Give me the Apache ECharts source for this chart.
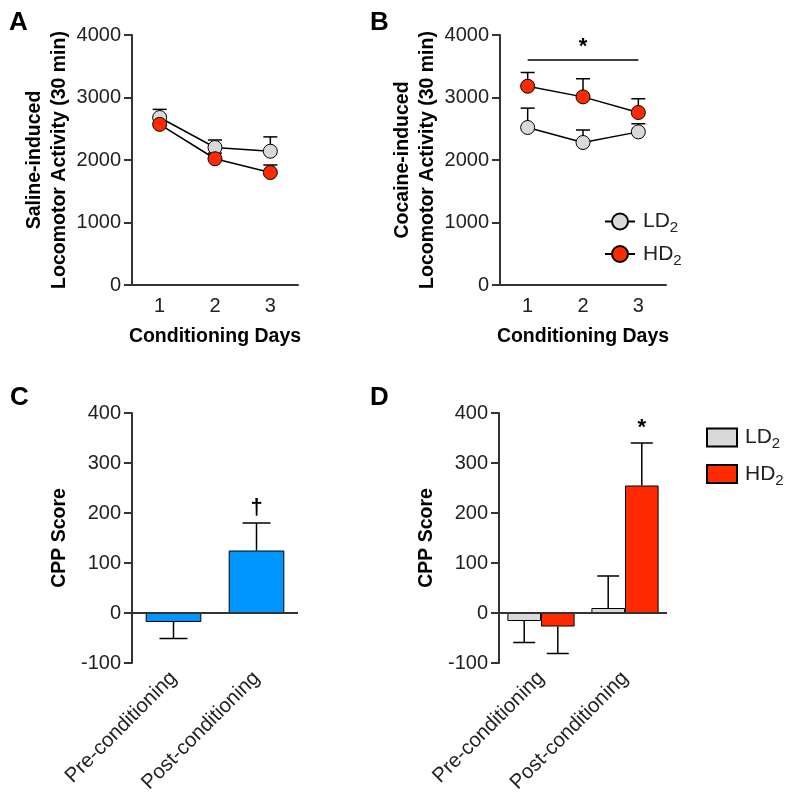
<!DOCTYPE html>
<html>
<head>
<meta charset="utf-8">
<script src="https://cdn.jsdelivr.net/npm/echarts@6/dist/echarts.min.js"></script>
<style>
html, body { margin: 0; padding: 0; background: #fff; }
#main { width: 790px; height: 799px; }
</style>
</head>
<body>
<div id="main"></div>
<script>
// panel A / B : locomotor activity per conditioning day
var days = ['1', '2', '3'];
var salineLD = [2680, 2200, 2140];
var salineLDErr = [2810, 2320, 2370];
var salineHD = [2570, 2020, 1800];
var salineHDErr = [2670, 2110, 1920];
var cocaineLD = [2520, 2280, 2450];
var cocaineLDErr = [2830, 2480, 2580];
var cocaineHD = [3180, 3010, 2760];
var cocaineHDErr = [3400, 3300, 2980];
var cocaineSig = [[0, 3610], [2, 3610]];

// panel C / D : CPP score
var phases = ['Pre-conditioning', 'Post-conditioning'];
var cppAll = [-18, 125];
var cppAllErr = [-51, 180];
var cppLD = [-16, 10];
var cppLDErr = [-59, 74];
var cppHD = [-27, 255];
var cppHDErr = [-81, 340];
var cppAllMark = [1, 210];
var cppHDMark = [1, 370];

var RED = '#ff2a00';
var GREY = '#d9d9d9';
var BLUE = '#0096ff';
var AXIS = '#333333';
var FONT = 'Liberation Sans, Arial, sans-serif';

var chart = echarts.init(document.getElementById('main'), null, {renderer: 'canvas'});

function errData(vals, ends) {
    return vals.map(function (v, i) { return [i, v, ends[i]]; });
}

function errorBar(offset, capW) {
    return function (params, api) {
        var cat = api.value(0);
        var base = api.coord([cat, api.value(1)]);
        var end = api.coord([cat, api.value(2)]);
        var band = api.size([1, 0])[0];
        var x = base[0] + band * offset;
        var st = {stroke: '#000', lineWidth: 1.5};
        return {
            type: 'group',
            children: [
                {type: 'line', shape: {x1: x, y1: base[1], x2: x, y2: end[1]}, style: st},
                {type: 'line', shape: {x1: x - capW / 2, y1: end[1], x2: x + capW / 2, y2: end[1]}, style: st}
            ]
        };
    };
}

function yAxisOf(grid, min, max, step, name, gap) {
    return {
        type: 'value', gridIndex: grid, min: min, max: max, interval: step,
        name: name, nameLocation: 'middle', nameGap: gap,
        nameTextStyle: {fontFamily: FONT, fontWeight: 'bold', fontSize: 19.5, lineHeight: 25, color: '#000'},
        axisLine: {show: true, lineStyle: {color: AXIS, width: 2}},
        axisTick: {show: true, length: 8, lineStyle: {color: AXIS, width: 2}},
        axisLabel: {fontFamily: FONT, fontSize: 20, color: '#222', margin: 11,
            formatter: function (v) { return String(v); }},
        splitLine: {show: false}
    };
}

function dayAxis(grid) {
    return {
        type: 'category', gridIndex: grid, data: days, boundaryGap: true,
        name: 'Conditioning Days', nameLocation: 'middle', nameGap: 42,
        nameTextStyle: {fontFamily: FONT, fontWeight: 'bold', fontSize: 19.5, color: '#000'},
        axisLine: {lineStyle: {color: AXIS, width: 2}},
        axisTick: {alignWithLabel: true, length: 8, lineStyle: {color: AXIS, width: 2}},
        axisLabel: {fontFamily: FONT, fontSize: 20, color: '#222', margin: 11}
    };
}

function phaseAxis(grid) {
    return {
        type: 'category', gridIndex: grid, data: phases, boundaryGap: true,
        axisLine: {show: false, onZero: false},
        axisTick: {show: false},
        axisLabel: {fontFamily: FONT, fontSize: 20.5, color: '#222', rotate: 45, interval: 0, margin: 12}
    };
}

function lineSeries(name, grid, data, color) {
    return {
        name: name, type: 'line', xAxisIndex: grid, yAxisIndex: grid, data: data,
        symbol: 'circle', symbolSize: 14, z: 3,
        itemStyle: {color: color, borderColor: '#000', borderWidth: 1},
        lineStyle: {color: '#000', width: 1.5}
    };
}

function errSeries(grid, vals, ends, offset, capW) {
    return {
        type: 'custom', xAxisIndex: grid, yAxisIndex: grid, z: 1, silent: true,
        renderItem: errorBar(offset, capW), data: errData(vals, ends)
    };
}

var zeroLine = {
    symbol: 'none', silent: true, label: {show: false},
    lineStyle: {color: AXIS, type: 'solid', width: 2},
    data: [{yAxis: 0}]
};

var legendRich = {
    a: {fontFamily: FONT, fontSize: 21, color: '#222', padding: [0, 0, 0, 3]},
    b: {fontFamily: FONT, fontSize: 15, color: '#222', padding: [13, 0, 0, 0]}
};
function legendName(name) {
    return '{a|' + name.slice(0, 2) + '}{b|2}';
}

var letterStyle = {fontFamily: FONT, fontWeight: 'bold', fontSize: 26, color: '#000'};

var option = {
    animation: false,
    backgroundColor: '#fff',
    title: [
        {text: 'A', left: 4, top: 5, textStyle: letterStyle},
        {text: 'B', left: 365, top: 5, textStyle: letterStyle},
        {text: 'C', left: 5, top: 380, textStyle: letterStyle},
        {text: 'D', left: 365, top: 380, textStyle: letterStyle}
    ],
    legend: [
        {
            data: ['LD2', 'HD2'], orient: 'vertical', left: 599, top: 206,
            itemWidth: 30, itemHeight: 20, itemGap: 8,
            formatter: legendName, textStyle: {rich: legendRich}
        },
        {
            data: ['LD2b', 'HD2b'], orient: 'vertical', left: 701, top: 422,
            itemWidth: 30, itemHeight: 18, itemGap: 12, icon: 'rect',
            formatter: legendName, textStyle: {rich: legendRich}
        }
    ],
    grid: [
        {left: 132, top: 35, width: 166, height: 250},
        {left: 500, top: 35, width: 166, height: 250},
        {left: 132, top: 413, width: 166, height: 250},
        {left: 499, top: 413, width: 168, height: 250}
    ],
    xAxis: [dayAxis(0), dayAxis(1), phaseAxis(2), phaseAxis(3)],
    yAxis: [
        yAxisOf(0, 0, 4000, 1000, 'Saline-induced\nLocomotor Activity (30 min)', 54),
        yAxisOf(1, 0, 4000, 1000, 'Cocaine-induced\nLocomotor Activity (30 min)', 54),
        yAxisOf(2, -100, 400, 100, 'CPP Score', 60),
        yAxisOf(3, -100, 400, 100, 'CPP Score', 60)
    ],
    series: [
        // A
        errSeries(0, salineLD, salineLDErr, 0, 14),
        errSeries(0, salineHD, salineHDErr, 0, 14),
        lineSeries('LD2a', 0, salineLD, GREY),
        lineSeries('HD2a', 0, salineHD, RED),
        // B
        errSeries(1, cocaineLD, cocaineLDErr, 0, 14),
        errSeries(1, cocaineHD, cocaineHDErr, 0, 14),
        lineSeries('LD2', 1, cocaineLD, GREY),
        (function () {
            var s = lineSeries('HD2', 1, cocaineHD, RED);
            s.markLine = {
                symbol: 'none', silent: true,
                lineStyle: {color: '#000', type: 'solid', width: 1.5},
                label: {show: true, position: 'middle', formatter: '*', distance: 1,
                    fontFamily: FONT, fontWeight: 'bold', fontSize: 22, color: '#000'},
                data: [[{coord: cocaineSig[0]}, {coord: cocaineSig[1]}]]
            };
            return s;
        })(),
        // C
        {
            name: 'All', type: 'bar', xAxisIndex: 2, yAxisIndex: 2, data: cppAll,
            barWidth: '67%',
            itemStyle: {color: BLUE, borderColor: '#000', borderWidth: 1},
            markLine: zeroLine,
            markPoint: {
                symbol: 'circle', symbolSize: 0, silent: true,
                label: {show: true, position: 'inside', formatter: '\u2020',
                    fontFamily: FONT, fontWeight: 'bold', fontSize: 22, color: '#000'},
                data: [{coord: cppAllMark}]
            }
        },
        errSeries(2, cppAll, cppAllErr, 0, 28),
        // D
        {
            name: 'LD2b', type: 'bar', xAxisIndex: 3, yAxisIndex: 3, data: cppLD,
            barWidth: '40%', barGap: 0,
            itemStyle: {color: GREY, borderColor: '#000', borderWidth: 1},
            markLine: zeroLine
        },
        {
            name: 'HD2b', type: 'bar', xAxisIndex: 3, yAxisIndex: 3, data: cppHD,
            barWidth: '40%', barGap: 0,
            itemStyle: {color: RED, borderColor: '#000', borderWidth: 1},
            markPoint: {
                symbol: 'circle', symbolSize: 0, silent: true,
                label: {show: true, position: 'inside', formatter: '*',
                    fontFamily: FONT, fontWeight: 'bold', fontSize: 22, color: '#000'},
                data: [{coord: cppHDMark}]
            }
        },
        errSeries(3, cppLD, cppLDErr, -0.2, 22),
        errSeries(3, cppHD, cppHDErr, 0.2, 22)
    ]
};

chart.setOption(option);
</script>
</body>
</html>
